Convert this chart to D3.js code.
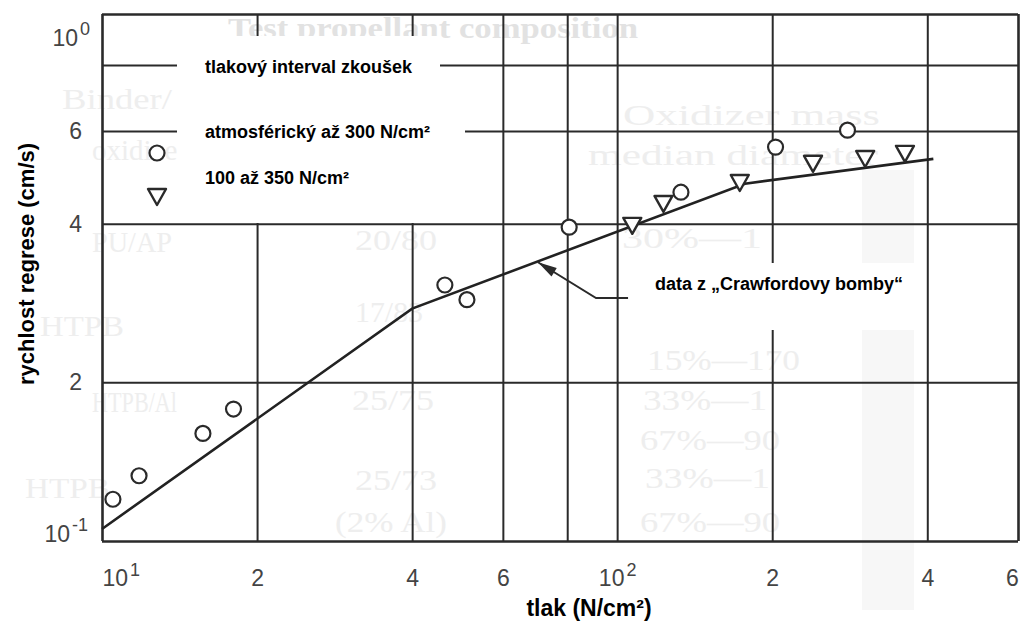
<!DOCTYPE html>
<html lang="cs">
<head>
<meta charset="UTF-8"/>
<title>Rychlost regrese v závislosti na tlaku</title>
<script src="https://d3js.org/d3.v7.min.js"></script>
<style>
  body { margin: 0; background: #fff; }
  svg { display: block; }
</style>
</head>
<body>
<script>
    // Chart size
    var w = 1021;
    var h = 621;

    // Axis ticks (log-log grid) and their labels ("^" marks an exponent)
    var xTicks = [10, 20, 40, 60, 80, 100, 200, 400, 600];
    var xTickLabels = ["10^1", "2", "4", "6", "", "10^2", "2", "4", "6"];
    var yTicks = [0.1, 0.2, 0.4, 0.6, 0.8, 1];
    var yTickLabels = ["10^-1", "2", "4", "6", "", "10^0"];

    // atmosférický až 300 N/cm2 (circles)
    var atmPressure = [10.5, 11.8, 15.7, 18.0, 46.3, 51.1, 80.7, 133, 203, 280];
    var atmRate     = [0.120, 0.133, 0.160, 0.178, 0.306, 0.287, 0.394, 0.459, 0.559, 0.602];

    // 100 až 350 N/cm2 (triangles)
    var highPressure = [107, 123, 173, 240, 303, 362];
    var highRate     = [0.398, 0.438, 0.480, 0.522, 0.533, 0.545];

    // data z "Crawfordovy bomby" (line)
    var bombPressure = [10, 40, 177, 411];
    var bombRate     = [0.1054, 0.276, 0.4765, 0.531];

    // arrow pointing at the line: tip, elbow, end (data coordinates)
    var arrowPressure = [70.2, 91.0, 105];
    var arrowRate     = [0.338, 0.289, 0.289];

    // faint bleed-through text of the scanned page
    var ghostText = ["Test propellant composition", "Binder/", "oxidizer", "izer", "Oxidizer mass",
                     "median diameter", "PU/AP", "20/80", "30%—1", "HTPB", "17/83", "15%—170",
                     "HTPB/Al", "25/75", "33%—1", "67%—90", "HTPB", "25/73", "(2% Al)", "33%—1", "67%—90"];
    var ghostX = [228, 62, 92, 330, 623, 588, 92, 355, 622, 40, 355, 647, 92, 352, 643, 640, 25, 355, 335, 645, 640];
    var ghostY = [38, 109, 160, 112, 125, 165, 252, 250, 248, 336, 322, 370, 412, 410, 410, 450, 498, 490, 532, 488, 532];
    var ghostW = [410, 110, 95, 50, 257, 290, 80, 82, 140, 84, 68, 153, 85, 82, 124, 140, 85, 82, 112, 125, 140];

    // plot frame in pixels
    var plotLeft = 102, plotRight = 1018, plotTop = 14, plotBottom = 541;

    var xScale = d3.scaleLog().domain([10, 600]).range([plotLeft, plotRight]);
    var yScale = d3.scaleLog().domain([0.1, 1]).range([plotBottom, plotTop]);

    var svg = d3.select("body").append("svg")
                .attr("width", w)
                .attr("height", h);

    // scan artefact strip
    svg.append("rect")
       .attr("x", 862).attr("y", 170).attr("width", 52).attr("height", 440)
       .attr("fill", "#f7f7f7");

    // ghost text
    svg.selectAll("text.ghost")
       .data(ghostText)
       .enter()
       .append("text")
       .attr("class", "ghost")
       .attr("x", function(d, i) { return ghostX[i]; })
       .attr("y", function(d, i) { return ghostY[i]; })
       .attr("textLength", function(d, i) { return ghostW[i]; })
       .attr("lengthAdjust", "spacingAndGlyphs")
       .attr("font-family", "Liberation Serif, serif")
       .attr("font-size", 30)
       .attr("font-weight", function(d, i) { return i == 0 ? "bold" : "normal"; })
       .attr("fill", function(d, i) { return i == 0 ? "#e2e2e2" : "#eeeeee"; })
       .text(function(d) { return d; });

    // vertical grid lines
    var xGrid = svg.append("g")
        .attr("transform", "translate(0," + plotBottom + ")")
        .call(d3.axisBottom(xScale).tickValues(xTicks).tickSize(-(plotBottom - plotTop)).tickFormat(""));

    // horizontal grid lines
    var yGrid = svg.append("g")
        .attr("transform", "translate(" + plotLeft + ",0)")
        .call(d3.axisLeft(yScale).tickValues(yTicks).tickSize(-(plotRight - plotLeft)).tickFormat(""));

    [xGrid, yGrid].forEach(function(g) {
        g.select(".domain").remove();
        g.selectAll(".tick line")
         .attr("stroke", "#2a2a2a")
         .attr("stroke-width", 2);
    });
    // thicker frame lines
    xGrid.selectAll(".tick line").filter(function(d) { return d == 10 || d == 600; }).attr("stroke-width", 2.6);
    yGrid.selectAll(".tick line").filter(function(d) { return d == 0.1 || d == 1; }).attr("stroke-width", 2.6);

    // writes "10^1" as 10 with a raised 1
    function writeLabel(sel, labels, ticks) {
        sel.selectAll(".tick text").each(function(d) {
            var t = d3.select(this);
            var lab = labels[ticks.indexOf(d)];
            t.text(null);
            var parts = lab.split("^");
            t.append("tspan").text(parts[0]);
            if (parts.length > 1) {
                t.append("tspan")
                 .attr("font-size", 18)
                 .attr("dy", "-0.6em")
                 .attr("dx", 2)
                 .text(parts[1]);
            }
        });
    }

    // x tick labels
    var xAxis = svg.append("g")
        .attr("transform", "translate(0," + plotBottom + ")")
        .call(d3.axisBottom(xScale).tickValues(xTicks).tickSize(0).tickPadding(29));
    xAxis.select(".domain").remove();
    xAxis.selectAll(".tick text")
         .attr("font-family", "Liberation Sans, Arial, sans-serif")
         .attr("font-size", 23)
         .attr("fill", "#444");
    writeLabel(xAxis, xTickLabels, xTicks);
    xAxis.selectAll(".tick text").filter(function(d) { return d == 10; })
         .attr("text-anchor", "start");
    xAxis.selectAll(".tick text").filter(function(d) { return d == 600; })
         .attr("x", -6);

    // y tick labels
    var yAxis = svg.append("g")
        .attr("transform", "translate(" + plotLeft + ",0)")
        .call(d3.axisLeft(yScale).tickValues(yTicks).tickSize(0).tickPadding(20));
    yAxis.select(".domain").remove();
    yAxis.selectAll(".tick text")
         .attr("font-family", "Liberation Sans, Arial, sans-serif")
         .attr("font-size", 23)
         .attr("fill", "#444");
    writeLabel(yAxis, yTickLabels, yTicks);
    yAxis.selectAll(".tick text").filter(function(d) { return d == 1; })
         .attr("y", 24).attr("x", -12);
    yAxis.selectAll(".tick text").filter(function(d) { return d == 0.1; })
         .attr("y", -7).attr("x", -14);

    // line: data z Crawfordovy bomby
    var line = d3.line()
        .x(function(d) { return xScale(d[0]); })
        .y(function(d) { return yScale(d[1]); });

    svg.append("path")
       .datum(d3.zip(bombPressure, bombRate))
       .attr("d", line)
       .attr("fill", "none")
       .attr("stroke", "#222")
       .attr("stroke-width", 2.6);

    // triangles: 100 az 350 N/cm2
    var tri = "M-9,-7L9,-7L0,9Z";
    svg.selectAll("path.tri")
       .data(d3.zip(highPressure, highRate))
       .enter()
       .append("path")
       .attr("class", "tri")
       .attr("d", tri)
       .attr("transform", function(d) { return "translate(" + xScale(d[0]) + "," + yScale(d[1]) + ")"; })
       .attr("fill", "#fff")
       .attr("stroke", "#2a2a2a")
       .attr("stroke-width", 2.4)
       .attr("stroke-linejoin", "round");

    // circles: atmosfericky az 300 N/cm2
    svg.selectAll("circle.atm")
       .data(d3.zip(atmPressure, atmRate))
       .enter()
       .append("circle")
       .attr("class", "atm")
       .attr("cx", function(d) { return xScale(d[0]); })
       .attr("cy", function(d) { return yScale(d[1]); })
       .attr("r", 7.5)
       .attr("fill", "#fff")
       .attr("stroke", "#2a2a2a")
       .attr("stroke-width", 2.2);

    // arrow to the line
    var arrowPts = d3.zip(arrowPressure, arrowRate).map(function(d) { return [xScale(d[0]), yScale(d[1])]; });
    svg.append("path")
       .attr("d", d3.line()(arrowPts.slice(1).reverse().concat([arrowPts[0]])))
       .attr("fill", "none")
       .attr("stroke", "#2a2a2a")
       .attr("stroke-width", 2);
    var tip = arrowPts[0], el = arrowPts[1];
    var ang = Math.atan2(el[1] - tip[1], el[0] - tip[0]);
    var hl = 19, hw = 5;
    var bx = tip[0] + hl * Math.cos(ang), by = tip[1] + hl * Math.sin(ang);
    svg.append("path")
       .attr("d", "M" + tip[0] + "," + tip[1] +
                  "L" + (bx - hw * Math.sin(ang)) + "," + (by + hw * Math.cos(ang)) +
                  "L" + (bx + hw * Math.sin(ang)) + "," + (by - hw * Math.cos(ang)) + "Z")
       .attr("fill", "#2a2a2a");

    // white label boxes pasted over the scan
    svg.append("rect").attr("x", 177).attr("y", 36).attr("width", 263).attr("height", 187).attr("fill", "#fff");
    svg.append("rect").attr("x", 177).attr("y", 112).attr("width", 288).attr("height", 88).attr("fill", "#fff");
    svg.append("rect").attr("x", 635).attr("y", 263).attr("width", 289).attr("height", 67).attr("fill", "#fff");

    // legend symbols
    svg.append("circle")
       .attr("cx", 157).attr("cy", 153).attr("r", 7.5)
       .attr("fill", "#fff").attr("stroke", "#2a2a2a").attr("stroke-width", 2.2);
    svg.append("path")
       .attr("d", tri)
       .attr("transform", "translate(157,196)")
       .attr("fill", "#fff").attr("stroke", "#2a2a2a").attr("stroke-width", 2.4)
       .attr("stroke-linejoin", "round");

    // legend and note texts
    var notes = [
        ["tlakový interval zkoušek", 205, 73],
        ["atmosférický až 300 N/cm²", 205, 138],
        ["100 až 350 N/cm²", 205, 184],
        ["data z „Crawfordovy bomby“", 655, 290]
    ];
    svg.selectAll("text.note")
       .data(notes)
       .enter()
       .append("text")
       .attr("class", "note")
       .attr("x", function(d) { return d[1]; })
       .attr("y", function(d) { return d[2]; })
       .attr("font-family", "Liberation Sans, Arial, sans-serif")
       .attr("font-weight", "bold")
       .attr("font-size", 18)
       .attr("fill", "#000")
       .text(function(d) { return d[0]; });

    // axis titles
    svg.append("text")
       .attr("x", 589)
       .attr("y", 616)
       .attr("text-anchor", "middle")
       .attr("font-family", "Liberation Sans, Arial, sans-serif")
       .attr("font-weight", "bold")
       .attr("font-size", 23)
       .attr("fill", "#000")
       .text("tlak (N/cm²)");

    svg.append("text")
       .attr("transform", "rotate(-90)")
       .attr("x", -264)
       .attr("y", 34)
       .attr("text-anchor", "middle")
       .attr("font-family", "Liberation Sans, Arial, sans-serif")
       .attr("font-weight", "bold")
       .attr("font-size", 22)
       .attr("fill", "#000")
       .text("rychlost regrese (cm/s)");
</script>
</body>
</html>
